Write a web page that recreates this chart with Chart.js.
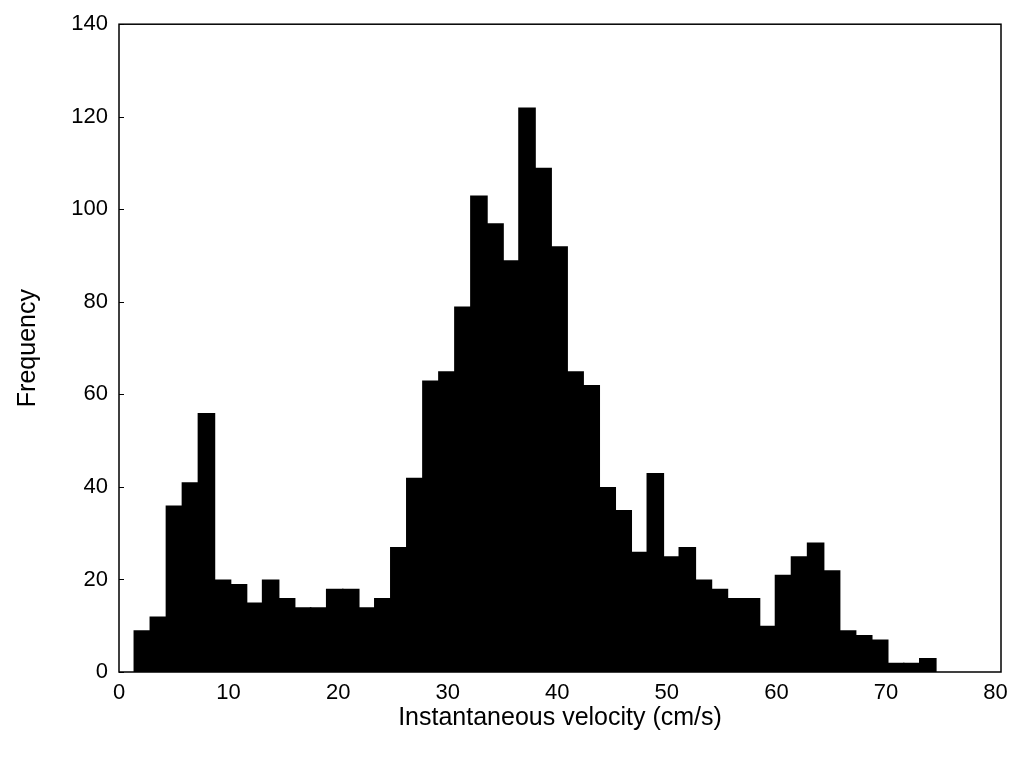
<!DOCTYPE html>
<html>
<head>
<meta charset="utf-8">
<script src="https://cdn.jsdelivr.net/npm/chart.js@4/dist/chart.umd.min.js"></script>
<style>
  html, body { margin: 0; padding: 0; background: #fff; }
  #wrap { width: 1020px; height: 761px; }
</style>
</head>
<body>
<div id="wrap"><canvas id="myChart" width="1020" height="761"></canvas></div>
<script>
// bin centres (cm/s)
var binCenters = [2.13, 3.59, 5.06, 6.52, 7.98, 9.45, 10.91, 12.37, 13.84, 15.30,
  16.76, 18.22, 19.69, 21.15, 22.61, 24.08, 25.54, 27.00, 28.47, 29.93,
  31.39, 32.85, 34.32, 35.78, 37.24, 38.71, 40.17, 41.63, 43.10, 44.56,
  46.02, 47.48, 48.95, 50.41, 51.87, 53.34, 54.80, 56.26, 57.73, 59.19,
  60.65, 62.11, 63.58, 65.04, 66.50, 67.97, 69.43, 70.89, 72.36, 73.82];

var frequency = [9, 12, 36, 41, 56, 20, 19, 15, 20, 16,
  14, 14, 18, 18, 14, 16, 27, 42, 63, 65,
  79, 103, 97, 89, 122, 109, 92, 65, 62, 40,
  35, 26, 43, 25, 27, 20, 18, 16, 16, 10,
  21, 25, 28, 22, 9, 8, 7, 2, 2, 3];

var xTicks = [0, 10, 20, 30, 40, 50, 60, 70, 80];
var yTicks = [0, 20, 40, 60, 80, 100, 120, 140];

var points = binCenters.map(function (c, i) {
  return { x: c, y: frequency[i] };
});

// box around the plot + short inward ticks on the left axis
var frame = {
  id: 'frame',
  afterDraw: function (chart) {
    var ctx = chart.ctx;
    var a = chart.chartArea;
    var ys = chart.scales.y;
    ctx.save();
    ctx.strokeStyle = '#000';
    ctx.lineWidth = 1.5;
    ctx.strokeRect(a.left, a.top, a.right - a.left, a.bottom - a.top);
    ctx.lineWidth = 1;
    yTicks.forEach(function (v) {
      var py = Math.round(ys.getPixelForValue(v)) + 0.5;
      ctx.beginPath();
      ctx.moveTo(a.left, py);
      ctx.lineTo(a.left + 5, py);
      ctx.stroke();
    });
    ctx.restore();
  }
};

Chart.defaults.font.family = '"Liberation Sans", Arial, sans-serif';
Chart.defaults.color = '#000';

const config = {
  type: 'bar',
  data: {
    datasets: [{
      data: points,
      backgroundColor: '#000',
      borderColor: '#000',
      borderWidth: 0,
      barPercentage: 1.1,
      categoryPercentage: 1.0
    }]
  },
  options: {
    responsive: false,
    animation: false,
    layout: { padding: { top: 20, right: 19, left: 0, bottom: 0 } },
    plugins: {
      legend: { display: false },
      tooltip: { enabled: false }
    },
    scales: {
      x: {
        type: 'linear',
        offset: false,
        min: 0,
        max: 80.5,
        afterBuildTicks: function (s) {
          s.ticks = xTicks.map(function (v) { return { value: v }; });
        },
        grid: { display: false, drawTicks: false, offset: false },
        border: { display: false },
        ticks: { font: { size: 22 }, padding: 8, maxRotation: 0 },
        title: {
          display: true,
          text: 'Instantaneous velocity (cm/s)',
          font: { size: 25 },
          padding: { top: 4, bottom: 28 }
        },
        afterFit: function (s) { s.height = 89; }
      },
      y: {
        min: 0,
        max: 140,
        afterBuildTicks: function (s) {
          s.ticks = yTicks.map(function (v) { return { value: v }; });
        },
        grid: { display: false, drawTicks: false },
        border: { display: false },
        ticks: { font: { size: 22 }, padding: 11 },
        title: {
          display: true,
          text: 'Frequency',
          font: { size: 25 },
          padding: { top: 13, bottom: 0 }
        },
        afterFit: function (s) { s.width = 119; }
      }
    }
  },
  plugins: [frame]
};

const myChart = new Chart(document.getElementById('myChart'), config);
</script>
</body>
</html>
